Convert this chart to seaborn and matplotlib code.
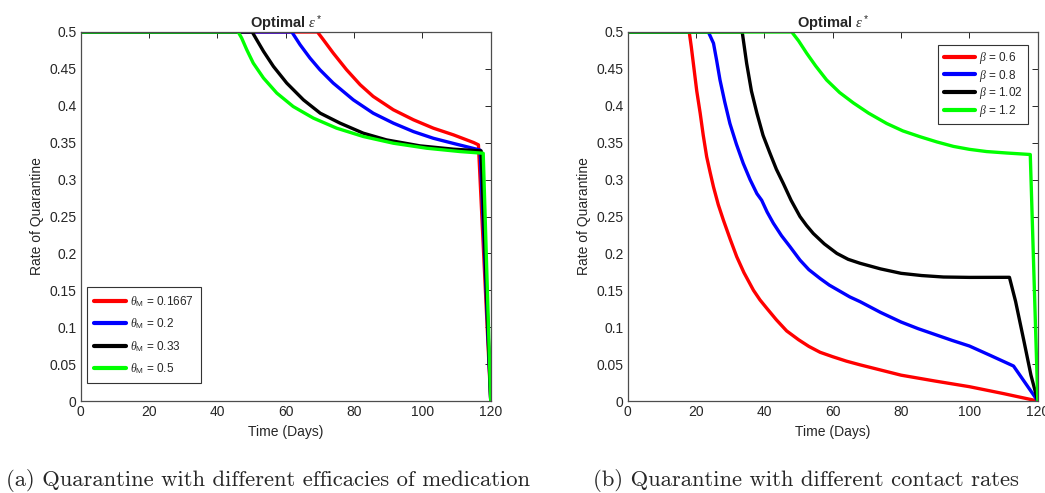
import numpy as np
import pandas as pd
import matplotlib
matplotlib.use("Agg")
import matplotlib.pyplot as plt
import seaborn as sns

# ---------------- data: panel (a) different efficacies of medication ----------------
theta_labels = [r"$\theta_\mathrm{M}$ = 0.1667", r"$\theta_\mathrm{M}$ = 0.2",
                r"$\theta_\mathrm{M}$ = 0.33", r"$\theta_\mathrm{M}$ = 0.5"]
a_red_t = [0, 69.3, 71.0, 73.9, 77.8, 81.8, 85.6, 91.5, 97.4, 103.2, 109.1, 115.0, 116.4, 120]
a_red_v = [0.5, 0.5, 0.4896, 0.4715, 0.4489, 0.4285, 0.4127, 0.3946, 0.381, 0.3697, 0.3606, 0.3502, 0.3471, 0.0]
a_blue_t = [0, 61.8, 64.2, 67.1, 70.0, 73.9, 79.8, 85.6, 91.5, 97.4, 103.2, 109.1, 116.9, 120]
a_blue_v = [0.5, 0.5, 0.4828, 0.4647, 0.4489, 0.4308, 0.408, 0.39, 0.3765, 0.365, 0.356, 0.349, 0.340, 0.0]
a_black_t = [0, 50.2, 51.5, 53.5, 56.4, 60.3, 65.2, 70.1, 75.9, 82.7, 89.5, 99.3, 109.1, 117.2, 120]
a_black_v = [0.5, 0.5, 0.4896, 0.4738, 0.4534, 0.4308, 0.408, 0.39, 0.3765, 0.3629, 0.3538, 0.3457, 0.3412, 0.3389, 0.0]
a_green_t = [0, 46.1, 47.1, 48.6, 50.5, 53.5, 57.4, 62.2, 68.1, 74.9, 82.7, 91.5, 101.3, 111.0, 117.8, 120]
a_green_v = [0.5, 0.5, 0.4919, 0.476, 0.4579, 0.4376, 0.4172, 0.399, 0.3833, 0.3697, 0.3584, 0.3493, 0.3425, 0.338, 0.3357, 0.0]

# ---------------- data: panel (b) different contact rates ----------------
beta_labels = [r"$\beta$ = 0.6", r"$\beta$ = 0.8", r"$\beta$ = 1.02", r"$\beta$ = 1.2"]
b_red_t = [0, 18.0, 18.6, 19.2, 20.2, 21.2, 22.1, 23.1, 24.1, 25.1, 26.5, 28, 30, 31.9, 34, 36.8,
           38.7, 40.7, 43.5, 46.5, 50, 53, 56.3, 60, 64, 68, 74, 80, 90, 100, 110, 120]
b_red_v = [0.5, 0.5, 0.48, 0.4575, 0.42, 0.39, 0.36, 0.331, 0.31, 0.29, 0.266, 0.245, 0.219, 0.1955,
           0.174, 0.150, 0.137, 0.1256, 0.110, 0.095, 0.083, 0.074, 0.066, 0.060, 0.054, 0.049, 0.042,
           0.035, 0.027, 0.0194, 0.010, 0.0]
b_blue_t = [0, 23.6, 25.1, 26, 27, 28.4, 29.9, 31.8, 33.8, 35.8, 37.8, 39.2, 40.8, 42.6, 45, 47.5,
            50.4, 53, 56.3, 59, 62, 65, 68, 74, 80, 85, 90, 95, 100, 106, 112.9, 120]
b_blue_v = [0.5, 0.5, 0.4847, 0.462, 0.435, 0.405, 0.376, 0.348, 0.322, 0.30, 0.281, 0.272, 0.256,
            0.241, 0.224, 0.209, 0.191, 0.178, 0.166, 0.157, 0.149, 0.141, 0.1346, 0.12, 0.107, 0.098,
            0.090, 0.082, 0.0745, 0.062, 0.0474, 0.0]
b_black_t = [0, 33.5, 34.8, 36.2, 37.8, 39.6, 41.6, 43.5, 45.5, 47.8, 50.4, 52.3, 54.3, 57.5, 61.2,
             64.5, 68, 74, 80, 86, 92.4, 100, 111.7, 113.5, 116, 118, 120]
b_black_v = [0.5, 0.5, 0.4575, 0.42, 0.39, 0.36, 0.336, 0.314, 0.295, 0.272, 0.25, 0.238, 0.227, 0.213,
             0.2, 0.192, 0.1866, 0.179, 0.173, 0.170, 0.168, 0.1675, 0.1676, 0.135, 0.08, 0.035, 0.0]
b_green_t = [0, 48.0, 50, 52.4, 55, 58.2, 62, 66, 70.5, 75.8, 80.5, 85.6, 90.5, 95.3, 100, 105, 111,
             117.8, 120]
b_green_v = [0.5, 0.5, 0.488, 0.471, 0.454, 0.435, 0.418, 0.404, 0.39, 0.376, 0.366, 0.358, 0.351,
             0.345, 0.341, 0.338, 0.336, 0.334, 0.0]

colors = ["#ff0000", "#0000ff", "#000000", "#00ff00"]
x_ticks = [0, 20, 40, 60, 80, 100, 120]
y_ticks = [0, 0.05, 0.1, 0.15, 0.2, 0.25, 0.3, 0.35, 0.4, 0.45, 0.5]
y_ticklabels = ["0", "0.05", "0.1", "0.15", "0.2", "0.25", "0.3", "0.35", "0.4", "0.45", "0.5"]
captions = ["(a) Quarantine with different efficacies of medication",
            "(b) Quarantine with different contact rates"]


def frame(labels, ts, vs):
    rows = []
    for lab, t, v in zip(labels, ts, vs):
        for ti, vi in zip(t, v):
            rows.append({"series": lab, "t": ti, "v": vi})
    return pd.DataFrame(rows)


df_a = frame(theta_labels, [a_red_t, a_blue_t, a_black_t, a_green_t],
             [a_red_v, a_blue_v, a_black_v, a_green_v])
df_b = frame(beta_labels, [b_red_t, b_blue_t, b_black_t, b_green_t],
             [b_red_v, b_blue_v, b_black_v, b_green_v])

sns.set_style("white")
plt.rcParams["font.family"] = ["Liberation Sans", "DejaVu Sans"]
plt.rcParams["mathtext.fontset"] = "custom"
plt.rcParams["mathtext.rm"] = "Liberation Sans"
plt.rcParams["mathtext.it"] = "Liberation Serif:italic"
plt.rcParams["mathtext.bf"] = "Liberation Sans:bold"

fig = plt.figure(figsize=(10.45, 4.93), dpi=100)
ax_a = fig.add_axes([0.0772, 0.1866, 0.3924, 0.7485])
ax_b = fig.add_axes([0.6007, 0.1866, 0.3924, 0.7485])

axc = "#4d4d4d"
for ax, df, labels in [(ax_a, df_a, theta_labels), (ax_b, df_b, beta_labels)]:
    sns.lineplot(data=df, x="t", y="v", hue="series", hue_order=labels,
                 palette=colors, sort=False, estimator=None, linewidth=2.4,
                 ax=ax)
    ax.set_xlim(0, 120)
    ax.set_ylim(0, 0.5)
    ax.set_xticks(x_ticks)
    ax.set_xticklabels([str(x) for x in x_ticks])
    ax.set_yticks(y_ticks)
    ax.set_yticklabels(y_ticklabels)
    ax.tick_params(direction="in", top=True, right=True, length=4, width=0.7,
                   labelsize=10, colors="#262626", pad=3)
    for s in ax.spines.values():
        s.set_visible(True)
        s.set_color(axc)
        s.set_linewidth(0.9)
    ax.set_xlabel("Time (Days)", fontsize=10, color="#262626", labelpad=4)
    ax.set_ylabel("Rate of Quarantine", fontsize=10, color="#262626", labelpad=4)
    ax.set_title(r"Optimal $\epsilon^*$", fontsize=10.5, fontweight="bold", pad=3)

leg_kw = dict(fontsize=8.5, handlelength=2.7, handletextpad=0.3,
              fancybox=False, framealpha=1, edgecolor="#333333",
              borderaxespad=0)
ax_a.legend(loc="lower left", bbox_to_anchor=(0.016, 0.048), labelspacing=0.65,
            borderpad=0.6, **leg_kw)
ax_b.legend(loc="upper right", bbox_to_anchor=(0.976, 0.966), labelspacing=0.15,
            borderpad=0.45, **leg_kw)
for ax in (ax_a, ax_b):
    leg = ax.get_legend()
    leg.get_frame().set_linewidth(0.8)
    for ln in leg.get_lines():
        ln.set_linewidth(3)

fig.text(268 / 1045, 1 - 481 / 493, captions[0], ha="center", va="center",
         fontsize=16.3, family="cmr10")
fig.text(806 / 1045, 1 - 481 / 493, captions[1], ha="center", va="center",
         fontsize=16.3, family="cmr10")

fig.savefig("out.png", dpi=100)
